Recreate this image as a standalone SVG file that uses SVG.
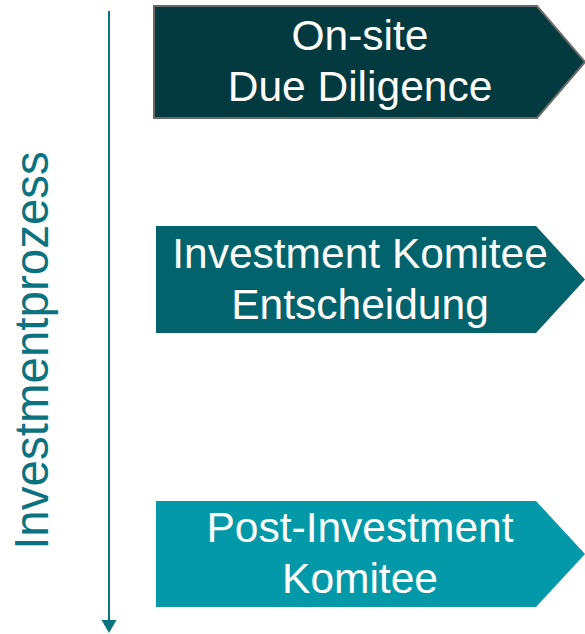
<svg xmlns="http://www.w3.org/2000/svg" width="585" height="634" viewBox="0 0 585 634">
<style>
.lbl{font-family:"Liberation Sans",Arial,sans-serif;font-size:42.5px;fill:#ffffff;text-anchor:middle}
.axis{font-family:"Liberation Sans",Arial,sans-serif;font-size:47.5px;fill:#0b7380;text-anchor:middle}
</style>
<rect width="585" height="634" fill="#ffffff"/>
<g id="connectors">
<line x1="109" y1="11" x2="109" y2="620" stroke="#0b7380" stroke-width="2"/>
<path d="M101.5,620 L116.5,620 L109,633 Z" fill="#0b7380"/>
</g>
<g id="axis-label">
<text class="axis" transform="translate(48,350.5) rotate(-90)">Investmentprozess</text>
</g>
<g id="step1">
<path d="M154,6 L537,6 L585,62 L537,118 L154,118 Z" fill="#033a40" stroke="#6a6a6a" stroke-width="2"/>
<text class="lbl" x="360" y="50">On-site</text>
<text class="lbl" x="360" y="101">Due Diligence</text>
</g>
<g id="step2">
<path d="M156,226 L536,226 L585,279.5 L536,333 L156,333 Z" fill="#02636c"/>
<text class="lbl" x="360" y="267.5">Investment Komitee</text>
<text class="lbl" x="360" y="318.5">Entscheidung</text>
</g>
<g id="step3">
<path d="M156,501 L536,501 L585,554 L536,607 L156,607 Z" fill="#0499a9"/>
<text class="lbl" x="360" y="542">Post-Investment</text>
<text class="lbl" x="360" y="593">Komitee</text>
</g>
</svg>
